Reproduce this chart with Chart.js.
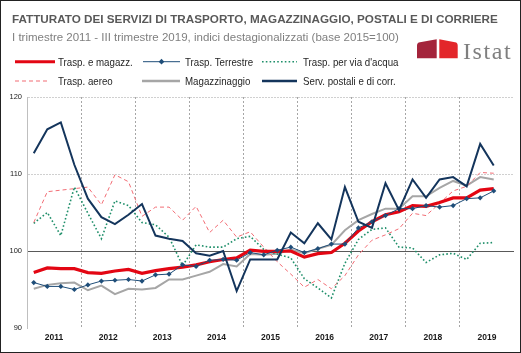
<!DOCTYPE html>
<html>
<head>
<meta charset="utf-8">
<script src="https://cdn.jsdelivr.net/npm/chart.js@4"></script>
<style>
  html, body { margin: 0; padding: 0; background: #fff; }
  #wrap { position: relative; width: 521px; height: 353px; overflow: hidden; }
  #frame { position: absolute; left: 0; top: 0; width: 521px; height: 353px; box-sizing: border-box; border: 1px solid #222; pointer-events: none; }
  .txt { position: absolute; white-space: nowrap; line-height: 1; }
  #title { left: 12px; top: 12px; font: bold 11.7px "Liberation Sans", Arial, sans-serif; color: #595959; }
  #subtitle { left: 12px; top: 31px; font: 11.5px "Liberation Sans", Arial, sans-serif; color: #7f7f7f; }
  .leg { font: 11.5px "Liberation Sans", Arial, sans-serif; color: #262626; transform: scaleX(0.845); transform-origin: 0 0; }
  #istat { left: 463px; top: 38px; font: 24px "Liberation Serif", "DejaVu Serif", serif; color: #7f7f7f; letter-spacing: 1.6px; }
  #deco { position: absolute; left: 0; top: 0; }
</style>
</head>
<body>
<div id="wrap">
  <canvas id="chart" width="521" height="353"></canvas>
  <svg id="deco" width="521" height="100">
    <!-- legend samples -->
    <line x1="15" y1="61.7" x2="55" y2="61.7" stroke="#e30613" stroke-width="3"/>
    <line x1="143" y1="61.7" x2="180" y2="61.7" stroke="#1f4e79" stroke-width="1"/>
    <rect x="159.5" y="59.7" width="4" height="4" fill="#1f4e79" transform="rotate(45 161.5 61.7)"/>
    <line x1="262" y1="61.7" x2="297" y2="61.7" stroke="#1f8f6a" stroke-width="1.6" stroke-dasharray="1.6 2.2"/>
    <line x1="15" y1="81" x2="50" y2="81" stroke="#f26d75" stroke-width="1.2" stroke-dasharray="4 3"/>
    <line x1="142" y1="81" x2="180" y2="81" stroke="#a6a6a6" stroke-width="2.5"/>
    <line x1="262" y1="81" x2="297" y2="81" stroke="#14355c" stroke-width="2.5"/>
    <!-- logo -->
    <path d="M417,58.3 L417,45.5 Q417,42.5 420,42.3 L436.7,39.3 L436.7,58.3 Z" fill="#a4243b"/>
    <path d="M439.3,58.3 L439.3,39.3 L455,42.3 Q457.7,42.7 457.7,45.5 L457.7,58.3 Z" fill="#e3262a"/>
  </svg>
  <div id="title" class="txt">FATTURATO DEI SERVIZI DI TRASPORTO, MAGAZZINAGGIO, POSTALI E DI CORRIERE</div>
  <div id="subtitle" class="txt">I trimestre 2011 - III trimestre 2019, indici destagionalizzati (base 2015=100)</div>
  <div class="txt leg" style="left:58px;top:56px">Trasp. e magazz.</div>
  <div class="txt leg" style="left:185px;top:56px">Trasp. Terrestre</div>
  <div class="txt leg" style="left:303px;top:56px">Trasp. per via d'acqua</div>
  <div class="txt leg" style="left:58px;top:75.3px">Trasp. aereo</div>
  <div class="txt leg" style="left:185px;top:75.3px">Magazzinaggio</div>
  <div class="txt leg" style="left:303px;top:75.3px">Serv. postali e di corr.</div>
  <div id="istat" class="txt">Istat</div>
  <div id="frame"></div>
</div>
<script>
const years = ['2011', '2012', '2013', '2014', '2015', '2016', '2017', '2018', '2019'];
const quarterNames = ['I', 'II', 'III', 'IV'];
const quarters = years.flatMap(y => quarterNames.map(q => q + ' ' + y));

// indici destagionalizzati, base 2015=100 (I 2011 - III 2019)
const traspMagazz = [
  97.2, 97.8, 97.7, 97.7,
  97.2, 97.1, 97.4, 97.6,
  97.1, 97.45, 97.7, 97.9,
  98.2, 98.6, 98.9, 99.1,
  100.1, 99.95, 99.95, 100.0,
  99.2, 99.65, 99.8, 101.0,
  102.6, 103.8, 104.7, 105.1,
  105.9, 105.8, 106.3, 106.9,
  106.9, 107.9, 108.1
];
const traspTerrestre = [
  95.9, 95.4, 95.4, 95.0,
  95.6, 96.1, 96.2, 96.3,
  96.1, 96.9, 97.0, 98.2,
  98.0, 98.8, 98.9, 98.8,
  99.8, 99.5, 100.1, 100.5,
  99.8, 100.3, 100.9, 100.9,
  103.0, 103.8, 104.6, 105.5,
  105.5, 105.9, 105.7, 105.9,
  106.8, 106.9, 107.8
];
const traspAcqua = [
  103.6, 105.0, 102.0, 108.3,
  104.9, 101.6, 106.5, 105.9,
  103.7, 103.4, 101.8, 98.1,
  100.8, 100.5, 100.5, 101.6,
  101.9, 100.2, 99.6, 99.1,
  96.4, 95.2, 93.9, 98.4,
  101.5, 102.8, 103.0, 100.5,
  100.4, 98.5, 99.5, 99.7,
  98.9, 101.0, 101.1
];
const traspAereo = [
  103.7, 107.7, 107.9, 108.1,
  108.3, 106.0, 109.9, 109.0,
  104.5, 105.7, 105.7, 104.0,
  105.8, 102.4, 104.0, 101.8,
  102.5, 100.5, 98.6, 97.0,
  95.3, 96.3, 95.1, 96.8,
  99.5, 101.4, 102.1, 102.9,
  104.9, 104.6, 106.2, 107.8,
  108.4, 110.2, 110.1
];
const magazzinaggio = [
  95.1, 95.6, 95.8, 95.9,
  94.9, 95.5, 94.4, 95.1,
  95.0, 95.2, 96.3, 96.3,
  96.8, 97.3, 98.3, 98.0,
  99.6, 99.5, 99.65, 100.2,
  99.7, 100.3, 100.8, 102.7,
  104.0, 104.8, 105.5, 105.5,
  107.1, 107.1, 108.2, 109.1,
  108.5, 109.6, 109.3
];
const servPostali = [
  112.7, 115.8, 116.7, 111.2,
  106.8, 104.4, 103.5, 104.7,
  106.1, 102.0, 101.6, 101.3,
  99.7, 99.4, 100.0, 94.8,
  98.9, 98.9, 98.9, 102.4,
  101.0, 103.6, 101.5, 108.3,
  103.8, 103.0, 108.8, 105.3,
  109.3, 106.9, 109.3, 109.6,
  108.4, 113.9, 111.1
];
const yTicks = [90, 100, 110, 120];

Chart.defaults.font.family = '"Liberation Sans", Arial, sans-serif';
Chart.defaults.color = '#262626';

const line = (label, data, color, width, extra) => Object.assign({
  label, data,
  borderColor: color,
  backgroundColor: color,
  borderWidth: width,
  pointRadius: 0,
  tension: 0,
  fill: false
}, extra || {});

new Chart(document.getElementById('chart'), {
  type: 'line',
  data: {
    labels: quarters,
    datasets: [
      line('Serv. postali e di corr.', servPostali, '#14355c', 2, { order: 0 }),
      line('Trasp. Terrestre', traspTerrestre, '#1f4e79', 1, {
        order: 1, pointRadius: 2.6, pointStyle: 'rectRot', pointBorderWidth: 0
      }),
      line('Trasp. e magazz.', traspMagazz, '#e30613', 3.2, { order: 2 }),
      line('Trasp. aereo', traspAereo, '#f26d75', 1, { order: 3, borderDash: [4, 3] }),
      line("Trasp. per via d'acqua", traspAcqua, '#1f8f6a', 1.6, { order: 4, borderDash: [1.6, 2.2] }),
      line('Magazzinaggio', magazzinaggio, '#a6a6a6', 2, { order: 5 })
    ]
  },
  options: {
    responsive: false,
    animation: false,
    layout: { padding: { top: 97, right: 7, left: 0, bottom: 0 } },
    plugins: {
      legend: { display: false },
      tooltip: { enabled: false }
    },
    scales: {
      x: {
        offset: true,
        afterFit: s => { s.height = 25; },
        grid: {
          offset: true,
          drawTicks: false,
          color: c => (c.index % 4 === 0 && c.index > 0) ? '#a6a6a6' : 'transparent',
          lineWidth: 1
        },
        border: { display: false, dash: [2, 2] },
        ticks: {
          autoSkip: false,
          maxRotation: 0,
          padding: 5,
          labelOffset: 6.8,
          font: { size: 8.5, weight: 'bold' },
          color: '#1a1a1a',
          callback: (v, i) => i % 4 === 1 ? years[Math.floor(i / 4)] : ''
        }
      },
      y: {
        min: 90,
        max: 120,
        afterFit: s => { s.width = 27; },
        afterBuildTicks: s => { s.ticks = yTicks.map(v => ({ value: v })); },
        grid: {
          drawTicks: false,
          color: c => !c.tick ? '#bfbfbf' : c.tick.value === 100 ? '#595959' : c.tick.value === 90 ? 'transparent' : '#d0d0d0',
          lineWidth: 1
        },
        border: {
          display: true,
          color: '#bfbfbf',
          dash: c => (c.tick && c.tick.value === 100) ? [] : [2, 1]
        },
        ticks: {
          padding: 5,
          font: { size: 7.5 },
          color: '#1a1a1a'
        }
      }
    }
  }
});
</script>
</body>
</html>
